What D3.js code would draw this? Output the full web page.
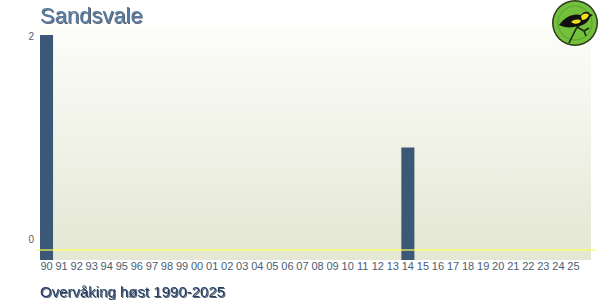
<!DOCTYPE html>
<html><head><meta charset="utf-8">
<script src="https://cdn.jsdelivr.net/npm/d3@7"></script>
<style>html,body{margin:0;padding:0;background:#fff;}svg{display:block;}</style>
</head><body>
<script>
const years = ["90","91","92","93","94","95","96","97","98","99","00","01","02","03","04","05","06","07","08","09","10","11","12","13","14","15","16","17","18","19","20","21","22","23","24","25"];
const counts = [2,0,0,0,0,0,0,0,0,0,0,0,0,0,0,0,0,0,0,0,0,0,0,0,1,0,0,0,0,0,0,0,0,0,0,0];
const yTicks = [0,2];
const title = "Sandsvale";
const subtitle = "Overvåking høst 1990-2025";

const W = 600, H = 300;
const svg = d3.select("body").append("svg").attr("width", W).attr("height", H);
const defs = svg.append("defs");
const g = defs.append("linearGradient").attr("id","bg").attr("x1",0).attr("y1",0).attr("x2",0).attr("y2",1);
g.append("stop").attr("offset","0%").attr("stop-color","#fdfdfa");
g.append("stop").attr("offset","100%").attr("stop-color","#e3e7d3");
const f = defs.append("filter").attr("id","sh").attr("x","-10%").attr("y","-10%").attr("width","130%").attr("height","140%");
f.append("feDropShadow").attr("dx",1).attr("dy",1).attr("stdDeviation",0.5).attr("flood-color","#0d1a2a").attr("flood-opacity",0.7);

const plot = {left:40, right:591, top:25, bottom:260};
svg.append("rect").attr("x",plot.left).attr("y",plot.top).attr("width",plot.right-plot.left).attr("height",plot.bottom-plot.top).attr("fill","url(#bg)");

const x = d3.scaleBand().domain(years).range([40,580]).paddingInner(2/15).paddingOuter(0).align(0);
const y = d3.scaleLinear().domain([0,2]).range([260,35]);
const yLab = d3.scaleLinear().domain([0,2]).range([239,36]);

svg.append("g").selectAll("rect").data(years.map((k,i)=>({k,v:counts[i]}))).join("rect")
  .attr("x",d=>x(d.k)).attr("width",x.bandwidth())
  .attr("y",d=>y(d.v)).attr("height",d=>d.v>0?y(0)-y(d.v):0)
  .attr("fill","#3b5876");

svg.append("line").attr("x1",37).attr("x2",596).attr("y1",250).attr("y2",250)
  .attr("stroke","#ffff55").attr("stroke-width",1.6).attr("stroke-opacity",0.8);

const xAxis = d3.axisBottom(x).tickSize(0).tickPadding(0);
const xg = svg.append("g").attr("transform","translate(0,262)").call(xAxis);
xg.select(".domain").remove();
xg.selectAll("text").attr("font-family","Liberation Sans, Arial, sans-serif").attr("font-size",11).attr("fill","#4a5d70").attr("dy","0.71em");

svg.append("g").selectAll("text").data(yTicks).join("text")
  .attr("x",34).attr("y",d=>yLab(d)).attr("dy","0.35em").attr("text-anchor","end")
  .attr("font-family","Liberation Sans, Arial, sans-serif").attr("font-size",10).attr("fill","#55606b").text(d=>d);

svg.append("text").attr("x",40).attr("y",23).attr("font-family","Liberation Sans, Arial, sans-serif")
  .attr("font-size",22).attr("fill","#5479a0").attr("filter","url(#sh)").text(title);
svg.append("text").attr("x",40).attr("y",297).attr("font-family","Liberation Sans, Arial, sans-serif")
  .attr("font-size",15).attr("fill","#23416a").attr("filter","url(#sh)").text(subtitle);

// logo
const lg = svg.append("g").attr("transform","translate(575,23)");
lg.append("circle").attr("r",23).attr("fill","#2a3a1a");
lg.append("circle").attr("r",21.5).attr("fill","#72c03c");
lg.append("circle").attr("r",17).attr("fill","none").attr("stroke","#4a8a2a").attr("stroke-width",0.6);
lg.append("path").attr("d","M-6,20 L2,4 L10,-2 M2,4 L9,8 M9,8 L14,5 M9,8 L11,13").attr("stroke","#1a2a10").attr("stroke-width",1.6).attr("fill","none");
lg.append("path").attr("d","M-16,2 C-10,-6 -2,-10 6,-8 C9,-12 13,-12 15,-9 L18,-8 L15,-6 C14,-2 10,2 4,3 C-4,5 -10,5 -16,2 Z").attr("fill","#111");
lg.append("path").attr("d","M6,-7 C9,-10 12,-10 14,-8 C13,-5 10,-3 7,-3 Z").attr("fill","#f2e01a");
lg.append("path").attr("d","M-4,-1 C0,-4 4,-4 6,-2 C4,1 0,2 -4,-1 Z").attr("fill","#f2e01a");
</script>
</body></html>
